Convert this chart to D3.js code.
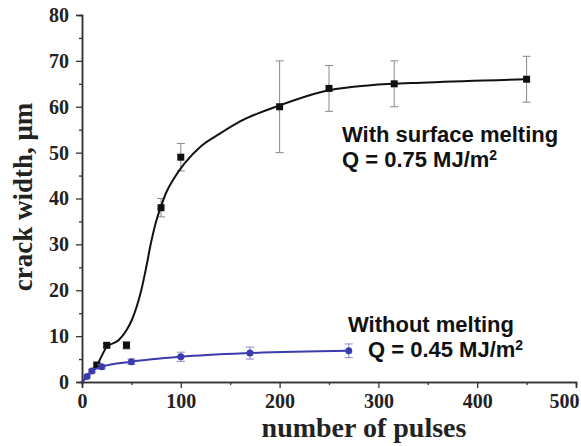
<!DOCTYPE html>
<html>
<head>
<meta charset="utf-8">
<script src="https://cdn.jsdelivr.net/npm/d3@7"></script>
<style>
  body { margin: 0; background: #fff; }
  svg { display: block; }
</style>
</head>
<body>
<script>
// measured points, with surface melting (Q = 0.75 MJ/m2)
const meltX = [15, 25, 45, 80, 100, 200, 250, 316, 450];
const meltY = [3.7, 8, 8, 38, 49, 60, 64, 65, 66];
const meltErr = [0.4, 0.4, 0.8, 2, 3, 10, 5, 5, 5];

// fitted curve through them
const fitX = [0, 8, 15, 25, 37, 45, 50, 55, 60, 65, 70, 75, 80, 85, 94, 104, 121, 140, 160, 200, 250, 292, 350, 450];
const fitY = [0, 2, 3.7, 7.6, 9.1, 11.3, 13.3, 16.2, 20, 25, 30.5, 35, 38.3, 41.2, 44.7, 47.7, 51.5, 54.2, 56.8, 60.3, 63.6, 64.7, 65.3, 66];

// without melting (Q = 0.45 MJ/m2)
const blueX = [0, 5, 10, 20, 50, 100, 170, 270];
const blueY = [0, 1.2, 2.4, 3.3, 4.4, 5.5, 6.3, 6.8];
const blueErr = [0, 0.3, 0.4, 0.5, 0.6, 1, 1.3, 1.5];

const xTicks = [0, 100, 200, 300, 400, 500];
const yTicks = [0, 10, 20, 30, 40, 50, 60, 70, 80];

const width = 581, height = 446;
const svg = d3.select('body').append('svg')
  .attr('width', width)
  .attr('height', height);

const x = d3.scaleLinear().domain([0, 500]).range([82, 576]);
const y = d3.scaleLinear().domain([0, 80]).range([382, 15]);

const axisColor = '#333';
const serif = '"Liberation Serif", "Times New Roman", serif';
const sans = '"Liberation Sans", Arial, sans-serif';

// axes
const xAxis = svg.append('g').attr('transform', `translate(0,${y(0)})`)
  .call(d3.axisBottom(x).tickValues(xTicks).tickSize(6).tickPadding(6));
const xMinor = svg.append('g').attr('transform', `translate(0,${y(0)})`)
  .call(d3.axisBottom(x).tickValues([50, 150, 250, 350, 450]).tickSize(3).tickFormat(''));
const yAxis = svg.append('g').attr('transform', `translate(${x(0)},0)`)
  .call(d3.axisLeft(y).tickValues(yTicks).tickSize(6).tickPadding(7));
const yMinor = svg.append('g').attr('transform', `translate(${x(0)},0)`)
  .call(d3.axisLeft(y).tickValues([5, 15, 25, 35, 45, 55, 65, 75]).tickSize(3).tickFormat(''));

[xAxis, xMinor, yAxis, yMinor].forEach(g => {
  g.selectAll('path.domain').attr('stroke', axisColor).attr('stroke-width', 1.5);
  g.selectAll('line').attr('stroke', axisColor).attr('stroke-width', 1.3);
  g.selectAll('text')
    .attr('fill', '#222')
    .style('font-family', serif)
    .style('font-weight', 'bold')
    .style('font-size', '20px');
});
// the last label is pulled in so it stays inside the picture
xAxis.selectAll('.tick text').filter(d => d === 500).attr('dx', -12);

// axis titles
svg.append('text')
  .attr('x', 364).attr('y', 437)
  .attr('text-anchor', 'middle')
  .style('font-family', serif).style('font-weight', 'bold').style('font-size', '28px')
  .attr('fill', '#222')
  .text('number of pulses');

svg.append('text')
  .attr('transform', 'translate(32,197) rotate(-90)')
  .attr('text-anchor', 'middle')
  .style('font-family', serif).style('font-weight', 'bold').style('font-size', '27px')
  .attr('fill', '#222')
  .text('crack width, μm');

// black series
const meltData = meltX.map((d, i) => ({x: d, y: meltY[i], e: meltErr[i]}));
const fitData = fitX.map((d, i) => ({x: d, y: fitY[i]}));

const errG = svg.append('g');
meltData.forEach(d => {
  errG.append('line')
    .attr('x1', x(d.x)).attr('x2', x(d.x))
    .attr('y1', y(d.y - d.e)).attr('y2', y(d.y + d.e))
    .attr('stroke', '#888').attr('stroke-width', 1);
  [d.y - d.e, d.y + d.e].forEach(v => {
    errG.append('line')
      .attr('x1', x(d.x) - 4).attr('x2', x(d.x) + 4)
      .attr('y1', y(v)).attr('y2', y(v))
      .attr('stroke', '#888').attr('stroke-width', 1);
  });
});

const line = d3.line().x(d => x(d.x)).y(d => y(d.y)).curve(d3.curveMonotoneX);

svg.append('path')
  .datum(fitData)
  .attr('d', line)
  .attr('fill', 'none')
  .attr('stroke', '#111')
  .attr('stroke-width', 2);

svg.selectAll('rect.melt')
  .data(meltData)
  .join('rect')
  .attr('class', 'melt')
  .attr('x', d => x(d.x) - 3.5)
  .attr('y', d => y(d.y) - 3.5)
  .attr('width', 7).attr('height', 7)
  .attr('fill', '#111');

// blue series
const blueData = blueX.map((d, i) => ({x: d, y: blueY[i], e: blueErr[i]}));
const blueErrG = svg.append('g');
blueData.filter(d => d.e > 0).forEach(d => {
  blueErrG.append('line')
    .attr('x1', x(d.x)).attr('x2', x(d.x))
    .attr('y1', y(d.y - d.e)).attr('y2', y(d.y + d.e))
    .attr('stroke', '#8a86c8').attr('stroke-width', 1);
  [d.y - d.e, d.y + d.e].forEach(v => {
    blueErrG.append('line')
      .attr('x1', x(d.x) - 4).attr('x2', x(d.x) + 4)
      .attr('y1', y(v)).attr('y2', y(v))
      .attr('stroke', '#8a86c8').attr('stroke-width', 1);
  });
});

svg.append('path')
  .datum(blueData)
  .attr('d', line)
  .attr('fill', 'none')
  .attr('stroke', '#3b3bb0')
  .attr('stroke-width', 2);

svg.selectAll('circle.blue')
  .data(blueData.filter(d => d.x > 0))
  .join('circle')
  .attr('class', 'blue')
  .attr('cx', d => x(d.x))
  .attr('cy', d => y(d.y))
  .attr('r', 3.5)
  .attr('fill', '#3b3bb0');

// annotations: two lines in one text, second line has a superscript 2
function note(x1, y1, first, x2, second) {
  const t = svg.append('text')
    .attr('x', x1).attr('y', y1)
    .style('font-family', sans).style('font-weight', 'bold').style('font-size', '22px')
    .attr('fill', '#111');
  t.append('tspan').text(first);
  t.append('tspan').attr('x', x2).attr('dy', 25).text(second);
  t.append('tspan').attr('dy', -7).style('font-size', '14px').text('2');
}
note(342, 142, 'With surface melting', 342, 'Q = 0.75 MJ/m');
note(348, 332, 'Without melting', 368, 'Q = 0.45 MJ/m');
</script>
</body>
</html>
